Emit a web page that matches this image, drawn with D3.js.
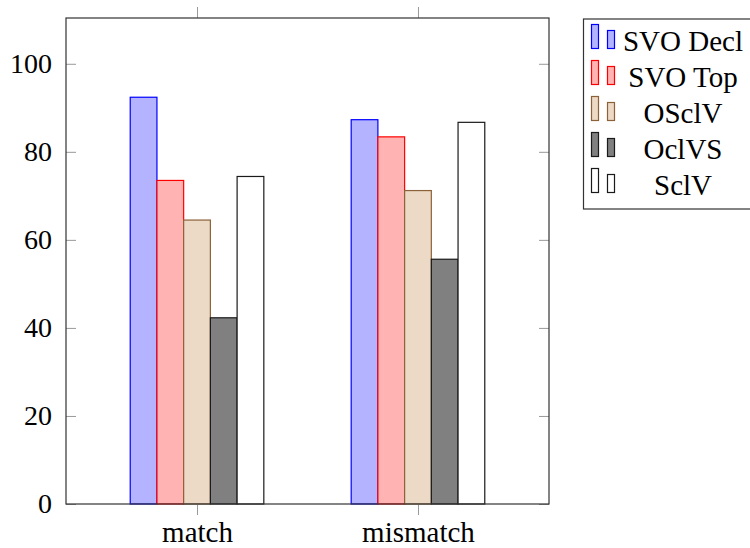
<!DOCTYPE html>
<html>
<head>
<meta charset="utf-8">
<script src="https://cdn.jsdelivr.net/npm/d3@7"></script>
<style>
  body { margin: 0; background: #fff; }
  text { font-family: "Liberation Serif", "DejaVu Serif", serif; }
</style>
</head>
<body>
<script>
// data
var categories = ["match", "mismatch"];
var seriesNames = ["SVO Decl", "SVO Top", "OSclV", "OclVS", "SclV"];
var svoDecl = [92.4, 87.3];
var svoTop = [73.5, 83.4];
var osclv = [64.5, 71.2];
var oclvs = [42.3, 55.6];
var sclv = [74.4, 86.7];
var yTicks = [0, 20, 40, 60, 80, 100];

var series = [svoDecl, svoTop, osclv, oclvs, sclv];
var fills = ["#b3b3ff", "#ffb3b3", "#ecd9c6", "#808080", "#ffffff"];
var strokes = ["#0000ff", "#ff0000", "#8c6239", "#1a1a1a", "#1a1a1a"];

var width = 750, height = 548;
var plotLeft = 66, plotRight = 549, plotTop = 18, plotBottom = 504;

var svg = d3.select("body").append("svg")
  .attr("width", width)
  .attr("height", height);

// scales
var x = d3.scalePoint()
  .domain(categories)
  .range([plotLeft, plotRight])
  .padding(0.593);

var inner = d3.scaleBand()
  .domain(d3.range(series.length))
  .range([-66.8, 66.8]);

var y = d3.scaleLinear()
  .domain([0, 110.4])
  .range([plotBottom, plotTop]);

// bars
series.forEach(function(vals, i) {
  svg.append("g").selectAll("rect")
    .data(vals)
    .enter().append("rect")
      .attr("x", function(d, j) { return x(categories[j]) + inner(i); })
      .attr("y", function(d) { return y(d); })
      .attr("width", inner.bandwidth())
      .attr("height", function(d) { return y(0) - y(d); })
      .style("fill", fills[i])
      .style("stroke", strokes[i])
      .style("stroke-width", 1.2);
});

// y axis left + right ticks
var yAxis = d3.axisLeft(y).tickValues(yTicks).tickSize(-10).tickPadding(14);
var gy = svg.append("g").attr("transform", "translate(" + plotLeft + ",0)").call(yAxis);
gy.select(".domain").remove();
gy.selectAll("line").attr("stroke", "#999");
gy.selectAll("text").style("font-size", "28px").attr("fill", "#000");

var gyr = svg.append("g").attr("transform", "translate(" + plotRight + ",0)")
  .call(d3.axisRight(y).tickValues(yTicks).tickSize(-10).tickFormat(""));
gyr.select(".domain").remove();
gyr.selectAll("line").attr("stroke", "#999");

// x axis bottom + top ticks
var gx = svg.append("g").attr("transform", "translate(0," + plotBottom + ")")
  .call(d3.axisBottom(x).tickSize(11).tickPadding(6));
gx.select(".domain").remove();
gx.selectAll("line").attr("stroke", "#999");
gx.selectAll("text").style("font-size", "29px").attr("fill", "#000");

var gxt = svg.append("g").attr("transform", "translate(0," + plotTop + ")")
  .call(d3.axisTop(x).tickSize(11).tickFormat(""));
gxt.select(".domain").remove();
gxt.selectAll("line").attr("stroke", "#999");

// frame
svg.append("rect")
  .attr("x", plotLeft).attr("y", plotTop)
  .attr("width", plotRight - plotLeft).attr("height", plotBottom - plotTop)
  .style("fill", "none")
  .style("stroke", "#333")
  .style("stroke-width", 1.2);

// legend
var legend = svg.append("g");
legend.append("rect")
  .attr("x", 583.5).attr("y", 19)
  .attr("width", 180).attr("height", 190)
  .style("fill", "#fff")
  .style("stroke", "#333")
  .style("stroke-width", 1.2);

seriesNames.forEach(function(name, i) {
  var by = 48.5 + i * 36;
  var row = legend.append("g");
  row.append("rect")
    .attr("x", 591.5).attr("y", by - 24).attr("width", 7).attr("height", 24)
    .style("fill", fills[i]).style("stroke", strokes[i]).style("stroke-width", 1.2);
  row.append("rect")
    .attr("x", 607.5).attr("y", by - 18).attr("width", 7).attr("height", 18)
    .style("fill", fills[i]).style("stroke", strokes[i]).style("stroke-width", 1.2);
  row.append("text")
    .attr("x", 683).attr("y", by + 2)
    .attr("text-anchor", "middle")
    .style("font-size", "29px")
    .text(name);
});
</script>
</body>
</html>
